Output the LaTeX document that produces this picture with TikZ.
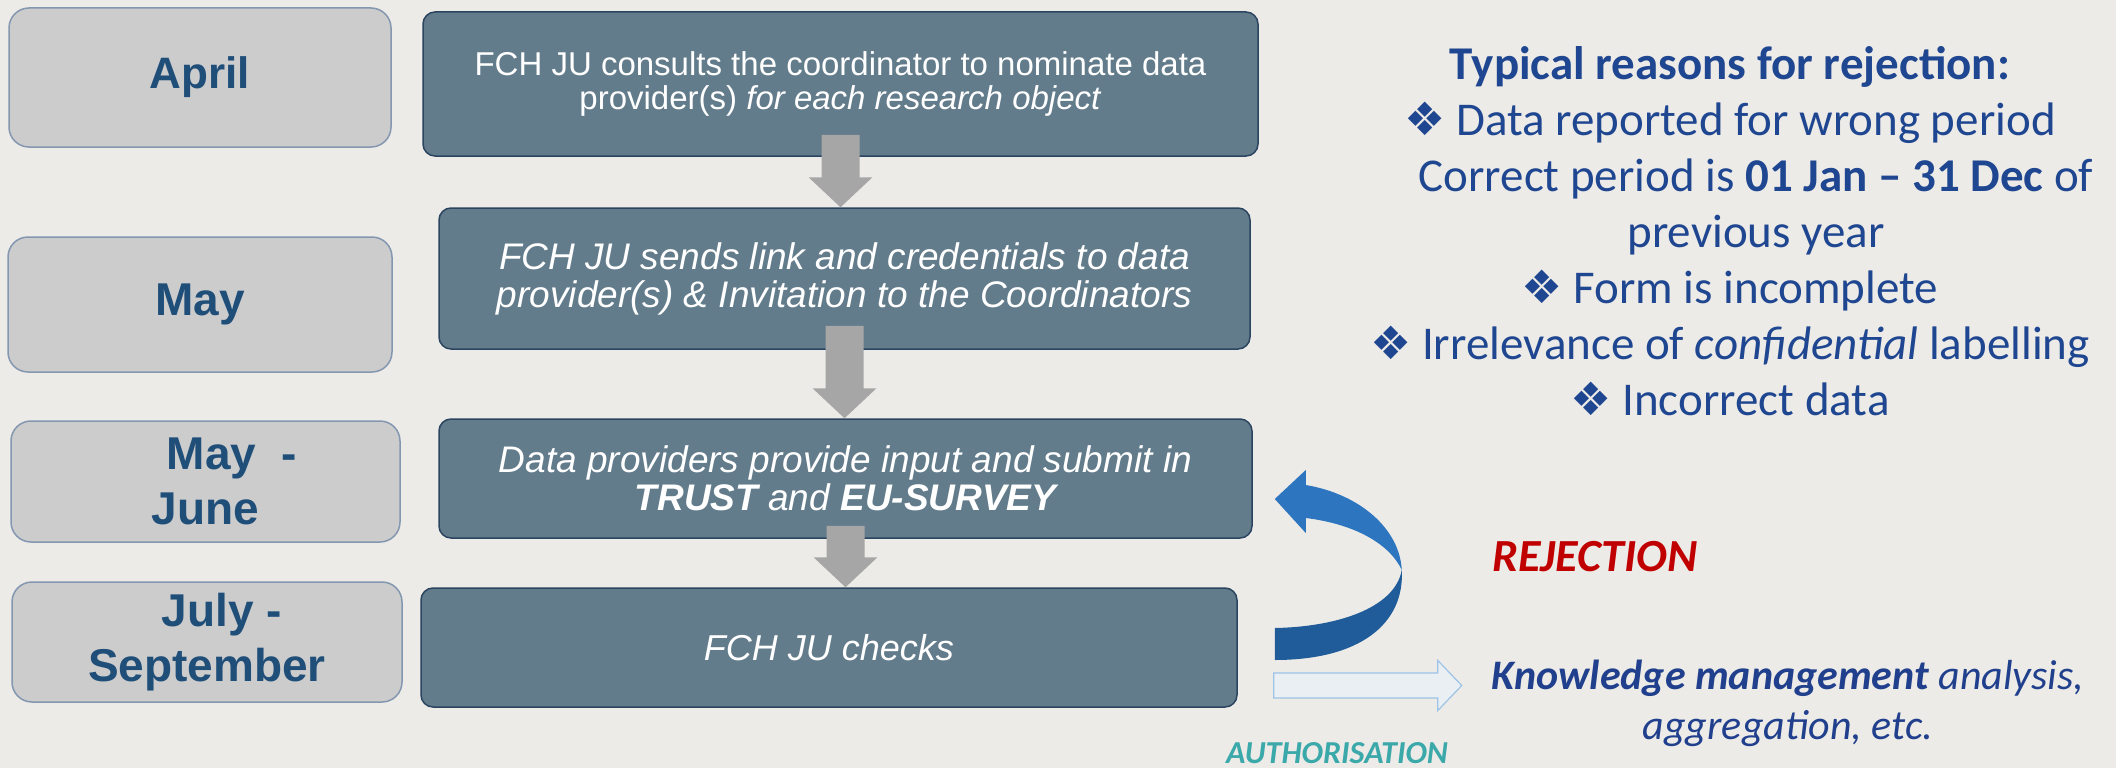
\documentclass[tikz,border=0pt]{standalone}
\usepackage{fontspec}
\setmainfont{Liberation Sans}
\newfontfamily\calibri{Carlito}
\newfontfamily\dingfont{DejaVu Sans}
\usetikzlibrary{calc}
\definecolor{pagebg}{HTML}{EDEBE7}
\definecolor{monthfill}{HTML}{CCCCCC}
\definecolor{monthline}{HTML}{8497B0}
\definecolor{monthtext}{HTML}{1F4E79}
\definecolor{stagefill}{HTML}{637C8B}
\definecolor{stageline}{HTML}{2B4560}
\definecolor{arrowgray}{HTML}{A6A6A6}
\definecolor{reasontext}{HTML}{1F4690}
\definecolor{kmtext}{HTML}{203F8C}
\definecolor{rejectred}{HTML}{C00000}
\definecolor{authteal}{HTML}{3BA8AA}
\definecolor{loopblue}{HTML}{2E75C0}
\definecolor{loopdark}{HTML}{1F5C99}
\definecolor{okfill}{HTML}{EAEFF4}
\definecolor{okline}{HTML}{9DC3E6}
\tikzset{
    monthbox/.style={draw=monthline, line width=1.5pt, fill=monthfill, rounded corners=20pt,
        inner sep=0pt, align=center, text=monthtext, font=\bfseries\fontsize{46}{55}\selectfont},
    stagebox/.style={draw=stageline, line width=1.5pt, fill=stagefill, rounded corners=12pt,
        inner sep=0pt, align=center, text=white}
}
\newcommand{\flowarrow}[2]{%
    \fill[arrowgray] ($(#1)+(-19,0)$) -- ($(#2)+(-19,-30)$) -- ($(#2)+(-32,-30)$) -- (#2)
        -- ($(#2)+(32,-30)$) -- ($(#2)+(19,-30)$) -- ($(#1)+(19,0)$) -- cycle;}
\newcommand{\diam}{{\dingfont\fontsize{46}{56}\selectfont ❖}}

\begin{document}
\begin{tikzpicture}[x=1pt,y=-1pt]
            \fill[pagebg] (0,0) rectangle (2116,768);
            \useasboundingbox (0,0) rectangle (2116,768);
            \node[monthbox, minimum width=382pt, minimum height=139pt, font=\bfseries\fontsize{44}{55}\selectfont] (april) at (200,77.5) {April};
            \node[monthbox, minimum width=384pt, minimum height=135pt] (may) at (200,304.5) {May};
            \node[monthbox, minimum width=389pt, minimum height=121pt] (mayjune) at (205.5,481.5) {\hspace*{53pt}May\ \ -\\June};
            \node[monthbox, minimum width=390pt, minimum height=120pt] (julysep) at (207,642) {\hspace*{30pt}July -\\September};
            \node[stagebox, minimum width=835pt, minimum height=144pt, font=\fontsize{33}{34}\selectfont] (consult) at (840.5,84)
                {FCH JU consults the coordinator to nominate data\\provider(s) \textit{for each research object}};
            \node[stagebox, minimum width=811pt, minimum height=141pt, font=\itshape\fontsize{37}{38}\selectfont] (sendlink) at (844.5,278.5)
                {FCH JU sends link and credentials to data\\provider(s) \& Invitation to the Coordinators};
            \node[stagebox, minimum width=813pt, minimum height=119pt, font=\itshape\fontsize{37}{38}\selectfont] (submit) at (845.5,478.5)
                {Data providers provide input and submit in\\\textbf{TRUST} and \textbf{EU-SURVEY}};
            \node[stagebox, minimum width=816pt, minimum height=119pt, font=\itshape\fontsize{36}{38}\selectfont] (checks) at (829,647.5) {FCH JU checks};
            \coordinate (s1) at ($(consult.south)+(0,-22)$);
            \coordinate (t1) at (s1 |- sendlink.north);
            \coordinate (s2) at ($(sendlink.south)+(0,-24)$);
            \coordinate (t2) at (s2 |- submit.north);
            \coordinate (s3) at ($(submit.south)+(0,-13)$);
            \coordinate (t3) at (s3 |- checks.north);
            \flowarrow{s1}{t1}
            \flowarrow{s2}{t2}
            \flowarrow{s3}{t3}
            \begin{scope}[shift={($(submit.east)+(22,20.5)$)}]
                \fill[loopblue] (31,-14) .. controls (85,-5) and (125,30) .. (127,71)
                    .. controls (115,45) and (80,25) .. (31,19) -- (31,34) -- (0,0) -- (31,-29) -- cycle;
                \fill[loopdark] (127,71) .. controls (130,125) and (85,161) .. (0,161) -- (0,129)
                    .. controls (60,128) and (120,110) .. (127,71) -- cycle;
            \end{scope}
            \coordinate (okstart) at ($(checks.east)+(36,38)$);
            \draw[okline, fill=okfill, line width=1.2pt] (okstart) ++(0,-12.5) -- ++(164,0) -- ++(0,-12.5)
                -- ++(24,25) -- ++(-24,25) -- ++(0,-12.5) -- ++(-164,0) -- cycle;
            \node[text=reasontext, font=\calibri\fontsize{47}{56}\selectfont, align=center, anchor=north, inner sep=0pt] (reasons) at (1730,46)
                {\textbf{Typical reasons for rejection:}\\
                \diam\ Data reported for wrong period\\
                \hspace*{52pt}Correct period is \textbf{01 Jan – 31 Dec} of\\
                \hspace*{52pt}previous year\\
                \diam\ Form is incomplete\\
                \diam\ Irrelevance of \textit{confidential} labelling\\
                \diam\ Incorrect data};
            \node[text=rejectred, font=\calibri\bfseries\itshape\fontsize{46}{56}\selectfont, anchor=base west, inner sep=0pt] (reject) at (1492,571) {REJECTION};
            \node[text=kmtext, font=\calibri\itshape\fontsize{42}{50}\selectfont, align=center, anchor=north, inner sep=0pt] (km) at (1788,660)
                {\textbf{Knowledge management} analysis,\\aggregation, etc.};
            \node[text=authteal, font=\calibri\bfseries\itshape\fontsize{32}{38}\selectfont, anchor=base west, inner sep=0pt] (auth) at (1226,763) {AUTHORISATION};
\end{tikzpicture}
\end{document}
